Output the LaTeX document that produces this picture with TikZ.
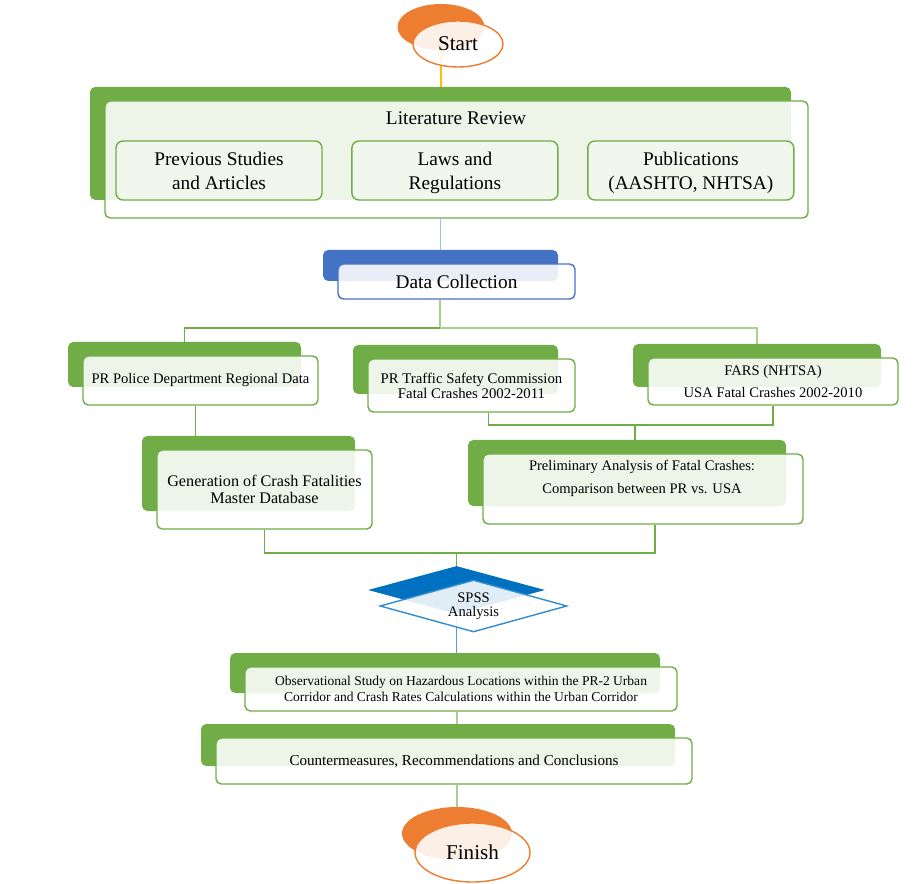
\documentclass[tikz,border=0pt]{standalone}
\usepackage{fontspec}
\setmainfont{Liberation Serif}
\usetikzlibrary{shapes.geometric,positioning}
\definecolor{boxgreen}{HTML}{70AD47}
\definecolor{linegreen}{HTML}{A9D18E}
\definecolor{boxblue}{HTML}{4472C4}
\definecolor{lineblue}{HTML}{9DC3E6}
\definecolor{diablue}{HTML}{0070C0}
\definecolor{spssline}{HTML}{5B9BD5}
\definecolor{boxorange}{HTML}{ED7D31}
\definecolor{lineyellow}{HTML}{FFC000}
\pgfdeclarelayer{conn}
\pgfsetlayers{conn,main}
\newcommand{\pxu}{0.02cm}
\tikzset{
	backbox/.style={
		rectangle,
		rounded corners=3pt,
		fill=#1,
		inner sep=0pt
	},
	frontbox/.style={
		rectangle,
		rounded corners=3pt,
		draw=#1,
		line width=0.8pt,
		fill=white,
		fill opacity=0.88,
		text opacity=1,
		align=center,
		inner sep=0pt
	},
	subbox/.style={
		rectangle,
		rounded corners=4pt,
		draw=boxgreen,
		line width=0.8pt,
		fill=boxgreen!10,
		minimum width=206*\pxu,
		minimum height=59*\pxu,
		text depth=0pt,
		align=center,
		font=\fontsize{11}{13.6}\selectfont
	},
	terminal/.style={
		ellipse,
		draw=boxorange,
		line width=0.8pt,
		fill=white,
		fill opacity=0.88,
		text opacity=1,
		inner sep=0pt,
		font=\fontsize{12}{14}\selectfont
	},
	link/.style={
		draw=boxgreen,
		line width=1.1pt
	},
	lightlink/.style={
		draw=linegreen,
		line width=1.1pt
	},
}
% back box + front box, front centre at (#4,#5) in px
\newcommand{\flowbox}[8][]{%
	\node[backbox=#2, minimum width=(#6-2)*\pxu, minimum height=(#7-4)*\pxu] (#3-bk) at (#4-16,#5-16) {};
	\node[frontbox=#2, minimum width=#6*\pxu, minimum height=#7*\pxu, #1] (#3) at (#4,#5) {#8};
}

\begin{document}
\begin{tikzpicture}[x=0.02cm,y=-0.02cm]
\useasboundingbox (0,0) rectangle (915,884);

% start
\node[ellipse, fill=boxorange, minimum width=87*\pxu, minimum height=46*\pxu, inner sep=0pt] (start-bk) at (441,27) {};
\node[terminal, minimum width=90*\pxu, minimum height=46*\pxu] (start) at (458,44) {Start};

% literature review
\flowbox{boxgreen}{lit}{456.5}{159.5}{703}{117}{}
\node[font=\fontsize{11}{13}\selectfont] (littitle) at (456,118) {Literature Review};
\node[subbox] (prev) at (219,170.5) {Previous Studies\\and Articles};
\node[subbox, right=0.57cm of prev] (laws) {Laws and\\Regulations};
\node[subbox, right=0.57cm of laws] (pubs) {Publications\\(AASHTO, NHTSA)};

% data collection
\flowbox[font=\fontsize{11}{13}\selectfont]{boxblue}{data}{456.5}{281.5}{237}{35}{Data Collection}

% sources
\flowbox[font=\fontsize{8.3}{10}\selectfont]{boxgreen}{police}{200.5}{380.5}{235}{49}{PR Police Department Regional Data}
\flowbox[font=\fontsize{8.4}{8.6}\selectfont]{boxgreen}{traffic}{471.5}{385.5}{207}{53}{PR Traffic Safety Commission\\Fatal Crashes 2002-2011}
\flowbox[font=\fontsize{8.3}{12.5}\selectfont]{boxgreen}{fars}{773}{381.5}{250}{47}{FARS (NHTSA)\\USA Fatal Crashes 2002-2010}

% database and analysis
\flowbox[font=\fontsize{9.2}{9.8}\selectfont]{boxgreen}{gen}{264.5}{489.5}{215}{79}{Generation of Crash Fatalities\\Master Database}
\flowbox{boxgreen}{prelim}{643}{489}{320}{70}{}
\node[align=center, font=\fontsize{8.3}{13}\selectfont] (prelim-txt) at (642,478) {Preliminary Analysis of Fatal Crashes:\\Comparison between PR vs. USA};

% spss
\node[diamond, aspect=3.6, fill=diablue, minimum width=177*\pxu, minimum height=48*\pxu, inner sep=0pt] (spss-bk) at (456.5,590) {};
\node[diamond, aspect=3.6, draw=diablue!80, line width=0.8pt, fill=white, fill opacity=0.88, text opacity=1,
	minimum width=187*\pxu, minimum height=52*\pxu, inner sep=0pt, align=center,
	font=\fontsize{8.3}{8}\selectfont] (spss) at (473.5,606) {SPSS\\Analysis};

% study and conclusions
\flowbox[font=\fontsize{7.7}{9}\selectfont]{boxgreen}{obs}{461}{689}{432}{44}{Observational Study on Hazardous Locations within the PR-2 Urban\\Corridor and Crash Rates Calculations within the Urban Corridor}
\flowbox[font=\fontsize{8.6}{10}\selectfont]{boxgreen}{counter}{454}{761}{476}{46}{Countermeasures, Recommendations and Conclusions}

% finish
\node[ellipse, fill=boxorange, minimum width=110*\pxu, minimum height=53*\pxu, inner sep=0pt] (finish-bk) at (457,833.5) {};
\node[terminal, minimum width=115*\pxu, minimum height=59*\pxu] (finish) at (472.5,852.5) {Finish};

\coordinate (fork) at (440,328);
\coordinate (joinR) at (635,425);
\coordinate (joinB) at (spss-bk.north |- 0,553);

\begin{pgfonlayer}{conn}
\draw[draw=lineyellow, line width=1.1pt] (start-bk.center) -- (start-bk.center |- lit-bk.north);
\draw[draw=lineblue, line width=1.1pt] (data-bk.north |- lit.south) -- (data-bk.north);
\draw[lightlink] (fork |- data.south) -- (fork);
\draw[link] (fork) -| (police-bk.north);
\draw[lightlink] (fork) -| (fars-bk.north);
\draw[link] ([xshift=-5*\pxu]police.south) -- ([xshift=-5*\pxu]police.south |- gen-bk.north);
\draw[link] ([xshift=17*\pxu]traffic.south) |- (joinR) -| (fars.south);
\draw[link] (joinR) -- (joinR |- prelim-bk.north);
\draw[link] (gen.south) |- (joinB) -| ([xshift=12*\pxu]prelim.south);
\draw[link] (joinB) -- (spss-bk.north);
\draw[draw=spssline, line width=1.1pt] (spss-bk.south) -- (spss-bk.south |- obs-bk.north);
\draw[lightlink] (finish-bk.north |- obs.south) -- (finish-bk.north |- counter-bk.north);
\draw[lightlink] (finish-bk.north |- counter.south) -- (finish-bk.north);
\end{pgfonlayer}
\end{tikzpicture}
\end{document}
